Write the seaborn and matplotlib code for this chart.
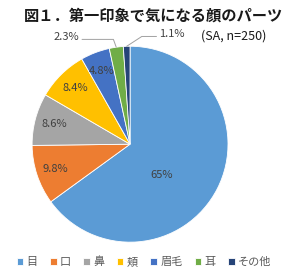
import matplotlib
matplotlib.use("Agg")
import matplotlib.pyplot as plt
import seaborn as sns
import numpy as np

categories = ["目", "口", "鼻", "頬", "眉毛", "耳", "その他"]
values = [65, 9.8, 8.6, 8.4, 4.8, 2.3, 1.1]
value_labels = ["65%", "9.8%", "8.6%", "8.4%", "4.8%", "2.3%", "1.1%"]
colors = ["#5B9BD5", "#ED7D31", "#A5A5A5", "#FFC000", "#4472C4", "#70AD47", "#264478"]

sns.set_theme(style="white")
plt.rcParams['font.family'] = ['Noto Sans CJK JP', 'DejaVu Sans']

fig = plt.figure(figsize=(3.0, 2.8), dpi=100)
ax = fig.add_axes([0.107, 0.135, 0.653, 0.70])

wedges, _ = ax.pie(values, colors=colors, startangle=90, counterclock=False,
                   wedgeprops=dict(edgecolor="white", linewidth=0.6))
ax.set_xlim(-1, 1)
ax.set_ylim(-1, 1)
ax.set_aspect("equal")

text_color = "#404040"
for i, w in enumerate(wedges):
    mid = np.deg2rad((w.theta1 + w.theta2) / 2)
    if i == 0:
        x, y = 0.32, -0.31
    elif i in (1, 2, 3, 4):
        r = 0.8
        x, y = r * np.cos(mid), r * np.sin(mid)
    else:
        continue
    ax.text(x, y, value_labels[i], ha="center", va="center", fontsize=8, color=text_color)

# outside labels with leader lines
for i, (tx, ty, kx) in zip([5, 6], [(-0.52, 1.09, -0.17), (0.30, 1.12, 0.12)]):
    w = wedges[i]
    mid = np.deg2rad((w.theta1 + w.theta2) / 2)
    ex, ey = np.cos(mid), np.sin(mid)
    ha = "right" if tx < 0 else "left"
    ax.text(tx, ty, value_labels[i], ha=ha, va="center", fontsize=8, color=text_color, clip_on=False)
    sx = tx + (0.03 if tx < 0 else -0.03)
    ax.plot([sx, kx, ex], [ty - 0.02, ty - 0.02, ey], color="#A0A0A0", lw=0.7, clip_on=False)

fig.text(0.08, 0.945, "図１．第一印象で気になる顔のパーツ", fontsize=11, fontweight="bold",
         color="#1a1a1a", ha="left", va="center")
fig.text(0.67, 0.872, "(SA, n=250)", fontsize=9, color="#1a1a1a", ha="left", va="center")

ax.legend(wedges, categories, loc="center", bbox_to_anchor=(0.48, 0.065),
          bbox_transform=fig.transFigure, ncol=7, frameon=False, fontsize=8,
          handlelength=0.6, handleheight=0.6, handletextpad=0.3, columnspacing=1.1,
          labelcolor="#595959")

fig.savefig("out.png", dpi=100)
